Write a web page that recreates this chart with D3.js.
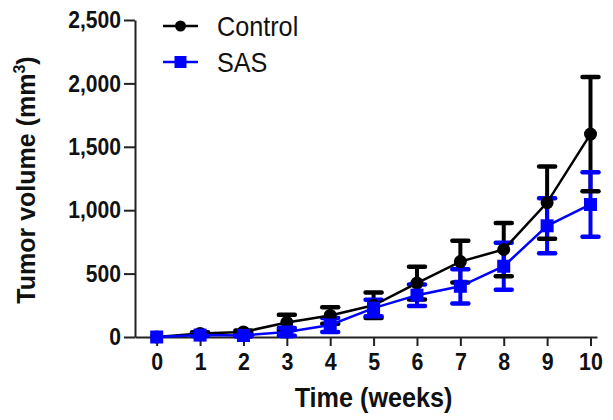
<!DOCTYPE html>
<html>
<head>
<meta charset="utf-8">
<script src="https://cdn.jsdelivr.net/npm/d3@7"></script>
<style>
  body { margin: 0; background: #fff; }
  text { font-family: "Liberation Sans", Arial, sans-serif; fill: #111; }
</style>
</head>
<body>
<div id="chart"></div>
<script>
// data
var weeks = [0, 1, 2, 3, 4, 5, 6, 7, 8, 9, 10];
var control = [0, 28, 40, 115, 170, 250, 425, 595, 690, 1060, 1600];
var controlErr = [0, 10, 12, 60, 65, 100, 130, 165, 210, 285, 450];
var sas = [0, 15, 12, 40, 95, 228, 330, 400, 558, 877, 1045];
var sasErr = [0, 8, 8, 30, 55, 65, 85, 135, 185, 217, 255];
var yTicks = [0, 500, 1000, 1500, 2000, 2500];

var svgWidth = 613;
var svgHeight = 420;

var svg = d3.select("#chart")
    .append("svg")
    .attr("width", svgWidth)
    .attr("height", svgHeight);

var xScale = d3.scaleLinear()
    .domain([-0.5, 10.15])
    .range([135, 597]);

var yScale = d3.scaleLinear()
    .domain([0, 2500])
    .range([337, 20]);

// squeeze text horizontally (the source image is a bit stretched vertically)
function squeeze(sel, f) {
    sel.each(function() {
        var len = this.getComputedTextLength();
        d3.select(this)
            .attr("textLength", len * f)
            .attr("lengthAdjust", "spacingAndGlyphs");
    });
}

// axes
var yAxis = svg.append("g")
    .attr("transform", "translate(135,0)")
    .call(d3.axisLeft(yScale).tickValues(yTicks).tickFormat(d3.format(","))
        .tickSize(11).tickSizeOuter(0).tickPadding(3));

var xAxis = svg.append("g")
    .attr("transform", "translate(0,337)")
    .call(d3.axisBottom(xScale).tickValues(weeks)
        .tickSize(9).tickSizeOuter(0).tickPadding(8));

[yAxis, xAxis].forEach(function(ax) {
    ax.select(".domain").attr("stroke", "#222").attr("stroke-width", 2);
    ax.selectAll(".tick line").attr("stroke", "#222").attr("stroke-width", 2);
    ax.selectAll(".tick text")
        .attr("font-family", "'Liberation Sans', Arial, sans-serif")
        .attr("font-weight", "bold")
        .attr("fill", "#111");
});
yAxis.selectAll(".tick text").attr("font-size", 24).call(squeeze, 0.88);
xAxis.selectAll(".tick text").attr("font-size", 23).call(squeeze, 0.93);

// axis titles
svg.append("text")
    .text("Time (weeks)")
    .attr("x", xScale(5))
    .attr("y", 407)
    .attr("text-anchor", "middle")
    .attr("font-weight", "bold")
    .attr("font-size", 28)
    .call(squeeze, 0.9);

var yTitle = svg.append("text")
    .attr("transform", "translate(35,180) rotate(-90)")
    .attr("text-anchor", "middle")
    .attr("font-weight", "bold")
    .attr("font-size", 25);
yTitle.append("tspan").text("Tumor volume (mm");
yTitle.append("tspan").text("3").attr("font-size", 16).attr("dy", -10);
yTitle.append("tspan").text(")").attr("dy", 10);

var series = [
    { name: "Control", values: control, errs: controlErr, color: "#000", shape: "circle", lw: 2.5 },
    { name: "SAS", values: sas, errs: sasErr, color: "#0000ff", shape: "square", lw: 2.5 }
];

var line = d3.line()
    .x(function(d) { return xScale(d.week); })
    .y(function(d) { return yScale(d.v); });

series.forEach(function(s) {
    s.points = weeks.map(function(w, i) {
        return { week: w, v: s.values[i], e: s.errs[i] };
    });
});

// error bar stems
series.forEach(function(s) {
    svg.append("g").selectAll("line")
        .data(s.points)
        .enter()
        .append("line")
        .attr("x1", d => xScale(d.week))
        .attr("x2", d => xScale(d.week))
        .attr("y1", d => yScale(d.v - d.e))
        .attr("y2", d => yScale(d.v + d.e))
        .attr("stroke", s.color)
        .attr("stroke-width", 4);
});

// error bar caps
series.forEach(function(s) {
    var caps = svg.append("g");
    [-1, 1].forEach(function(sign) {
        caps.append("g").selectAll("line")
            .data(s.points.filter(d => d.e > 0))
            .enter()
            .append("line")
            .attr("x1", d => xScale(d.week) - 8)
            .attr("x2", d => xScale(d.week) + 8)
            .attr("y1", d => yScale(d.v + sign * d.e))
            .attr("y2", d => yScale(d.v + sign * d.e))
            .attr("stroke", s.color)
            .attr("stroke-width", 4.5)
            .attr("stroke-linecap", "round");
    });
});

// lines and markers
series.forEach(function(s) {
    svg.append("path")
        .datum(s.points)
        .attr("d", line)
        .attr("fill", "none")
        .attr("stroke", s.color)
        .attr("stroke-width", s.lw);
});

series.forEach(function(s) {
    var g = svg.append("g");
    if (s.shape == "circle") {
        g.selectAll("circle")
            .data(s.points)
            .enter()
            .append("circle")
            .attr("cx", d => xScale(d.week))
            .attr("cy", d => yScale(d.v))
            .attr("r", 6.5)
            .attr("fill", s.color);
    } else {
        g.selectAll("rect")
            .data(s.points)
            .enter()
            .append("rect")
            .attr("x", d => xScale(d.week) - 6.5)
            .attr("y", d => yScale(d.v) - 6.5)
            .attr("width", 13)
            .attr("height", 13)
            .attr("fill", s.color);
    }
});

// legend
var legend = svg.append("g");
series.forEach(function(s, i) {
    var y = 26 + i * 36;
    legend.append("line")
        .attr("x1", 163).attr("x2", 198)
        .attr("y1", y).attr("y2", y)
        .attr("stroke", s.color)
        .attr("stroke-width", 2.5);
    if (s.shape == "circle") {
        legend.append("circle")
            .attr("cx", 180.5).attr("cy", y).attr("r", 5.5)
            .attr("fill", s.color);
    } else {
        legend.append("rect")
            .attr("x", 174.5).attr("y", y - 6)
            .attr("width", 12).attr("height", 12)
            .attr("fill", s.color);
    }
    legend.append("text")
        .text(s.name)
        .attr("x", 217)
        .attr("y", y + 10)
        .attr("font-size", 28)
        .call(squeeze, 0.9);
});
</script>
</body>
</html>
